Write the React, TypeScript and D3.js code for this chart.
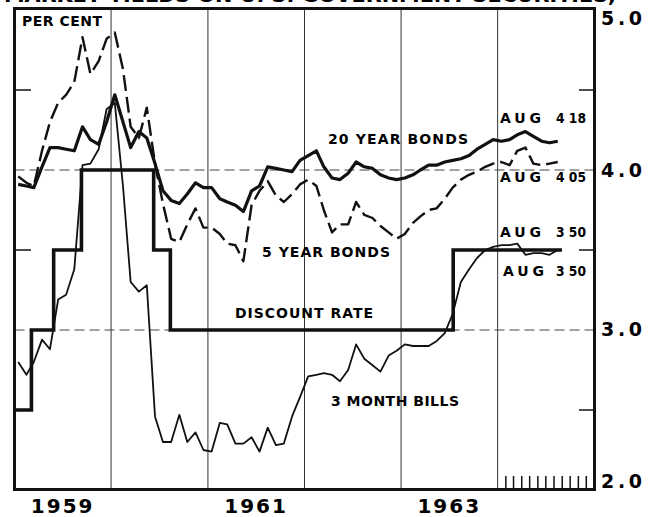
import React, { useEffect, useRef } from 'react';
import * as d3 from 'd3';

// monthly averages, Jan 1959 - Aug 1964, per cent
const twentyYearBonds = [
  3.91, 3.90, 3.89, 4.02, 4.14, 4.14, 4.13, 4.12, 4.27, 4.19, 4.16, 4.30,
  4.47, 4.30, 4.14, 4.24, 4.20, 4.04, 3.87, 3.81, 3.79, 3.85, 3.92, 3.89,
  3.89, 3.82, 3.80, 3.78, 3.74, 3.87, 3.90, 4.02, 4.01, 4.00, 3.99, 4.06,
  4.09, 4.12, 4.02, 3.95, 3.94, 3.98, 4.05, 4.02, 4.01, 3.97, 3.95, 3.94,
  3.95, 3.97, 4.00, 4.03, 4.03, 4.05, 4.06, 4.07, 4.09, 4.13, 4.16, 4.19,
  4.18, 4.19, 4.22, 4.24, 4.21, 4.18, 4.17, 4.18,
];
const fiveYearBonds = [
  3.96, 3.92, 3.90, 4.12, 4.30, 4.42, 4.47, 4.55, 4.83, 4.60, 4.68, 4.82,
  4.86, 4.63, 4.27, 4.20, 4.39, 4.04, 3.79, 3.57, 3.55, 3.66, 3.76, 3.64,
  3.64, 3.60, 3.54, 3.53, 3.43, 3.78, 3.87, 3.93, 3.84, 3.80, 3.85, 3.91,
  3.94, 3.90, 3.75, 3.61, 3.66, 3.66, 3.80, 3.72, 3.70, 3.65, 3.61, 3.57,
  3.60, 3.67, 3.71, 3.75, 3.76, 3.82, 3.89, 3.94, 3.97, 3.99, 4.02, 4.04,
  4.05, 4.03, 4.12, 4.14, 4.04, 4.03, 4.04, 4.05,
];
const threeMonthBills = [
  2.80, 2.72, 2.80, 2.94, 2.88, 3.19, 3.22, 3.38, 4.03, 4.04, 4.13, 4.38,
  4.42, 3.90, 3.30, 3.24, 3.28, 2.46, 2.30, 2.30, 2.47, 2.30, 2.36, 2.25,
  2.24, 2.42, 2.41, 2.29, 2.29, 2.33, 2.24, 2.39, 2.28, 2.29, 2.46, 2.58,
  2.71, 2.72, 2.73, 2.72, 2.68, 2.75, 2.91, 2.82, 2.78, 2.74, 2.84, 2.87,
  2.91, 2.90, 2.90, 2.90, 2.93, 2.98, 3.10, 3.30, 3.38, 3.45, 3.50, 3.52,
  3.53, 3.53, 3.54, 3.47, 3.48, 3.48, 3.47, 3.50,
];

// discount rate changes; last entry only closes the step
const discountDates = ['1959-01-01', '1959-03-06', '1959-05-29', '1959-09-11', '1960-06-10', '1960-08-12', '1963-07-17', '1964-08-31'];
const discountRates = [2.5, 3.0, 3.5, 4.0, 3.5, 3.0, 3.5, 3.5];

const yearLabels = ['1959', '1961', '1963'];
const gridYears = ['1960', '1961', '1962', '1963', '1964'];
const valueLabels = ['5.0', '4.0', '3.0', '2.0'];
const halfTicks = [4.5, 3.5, 2.5];
const dashedLevels = [4.0, 3.0];
const augValues = ['4 18', '4 05', '3 50', '3 50'];

const width = 658;
const height = 517;
const font = '"DejaVu Sans", Verdana, sans-serif';

export default function App() {
  const ref = useRef(null);

  useEffect(() => {
    const svg = d3.select(ref.current);
    svg.selectAll('*').remove();

    const parse = d3.timeParse('%Y-%m-%d');
    const x = d3.scaleTime().domain([new Date(1959, 0, 1), new Date(1965, 0, 1)]).range([14.5, 594.5]);
    const y = d3.scaleLinear().domain([2, 5]).range([490, 10]);

    const months = threeMonthBills.map((d, i) => new Date(1959, i, 15));

    // title, cut off at the top of the page like the scan
    svg.append('text').attr('x', 4).attr('y', 2)
      .attr('font-family', font).attr('font-weight', 'bold').attr('font-size', 22)
      .attr('textLength', 612).attr('lengthAdjust', 'spacingAndGlyphs')
      .text('MARKET YIELDS ON U. S. GOVERNMENT SECURITIES,');

    // year grid
    svg.append('g').selectAll('line').data(gridYears).join('line')
      .attr('x1', d => x(new Date(+d, 0, 1))).attr('x2', d => x(new Date(+d, 0, 1)))
      .attr('y1', y(5)).attr('y2', y(2))
      .attr('stroke', '#333').attr('stroke-width', 1);

    svg.append('g').selectAll('line').data(dashedLevels).join('line')
      .attr('x1', x.range()[0]).attr('x2', x.range()[1])
      .attr('y1', d => y(d)).attr('y2', d => y(d))
      .attr('stroke', '#444').attr('stroke-width', 1).attr('stroke-dasharray', '10,5');

    // half point ticks, both sides
    const ticks = svg.append('g').attr('stroke', '#111').attr('stroke-width', 1.5);
    ticks.selectAll('.l').data(halfTicks).join('line').attr('class', 'l')
      .attr('x1', 14).attr('x2', 31).attr('y1', d => y(d)).attr('y2', d => y(d));
    ticks.selectAll('.r').data(halfTicks).join('line').attr('class', 'r')
      .attr('x1', 579).attr('x2', 595).attr('y1', d => y(d)).attr('y2', d => y(d));

    // months of 1964 along the bottom
    ticks.selectAll('.m').data(d3.timeMonth.range(new Date(1964, 1, 1), new Date(1965, 0, 1))).join('line')
      .attr('class', 'm')
      .attr('x1', d => x(d)).attr('x2', d => x(d)).attr('y1', 476).attr('y2', 489);

    const line = d3.line().x((d, i) => x(months[i])).y(d => y(d));

    svg.append('path').datum(threeMonthBills).attr('d', line)
      .attr('fill', 'none').attr('stroke', '#111').attr('stroke-width', 1.8).attr('stroke-linejoin', 'round');

    svg.append('path').datum(fiveYearBonds).attr('d', line)
      .attr('fill', 'none').attr('stroke', '#111').attr('stroke-width', 2.4)
      .attr('stroke-dasharray', '16,6').attr('stroke-linejoin', 'round');

    svg.append('path').datum(twentyYearBonds).attr('d', line)
      .attr('fill', 'none').attr('stroke', '#111').attr('stroke-width', 3.2).attr('stroke-linejoin', 'round');

    const step = d3.line().curve(d3.curveStepAfter)
      .x((d, i) => x(parse(discountDates[i]))).y(d => y(d));
    svg.append('path').datum(discountRates).attr('d', step)
      .attr('fill', 'none').attr('stroke', '#111').attr('stroke-width', 3.6);

    // frame
    svg.append('rect').attr('x', 14.5).attr('y', 8.5).attr('width', 580).attr('height', 481)
      .attr('fill', 'none').attr('stroke', '#111').attr('stroke-width', 3);

    // right axis values
    svg.append('g').selectAll('text').data(valueLabels).join('text')
      .attr('x', 601)
      .attr('y', (d, i) => [25, y(4) + 7, y(3) + 6, 488][i])
      .attr('font-family', font).attr('font-weight', 'bold').attr('font-size', 19)
      .attr('textLength', 41).attr('lengthAdjust', 'spacing')
      .text(d => d);

    // years, centred on mid-year
    svg.append('g').selectAll('text').data(yearLabels).join('text')
      .attr('x', d => x(new Date(+d, 6, 2))).attr('y', 513)
      .attr('text-anchor', 'middle')
      .attr('font-family', font).attr('font-weight', 'bold').attr('font-size', 20)
      .attr('letter-spacing', 2)
      .text(d => d);

    const label = (txt, lx, ly, len, adjust = 'spacing') => svg.append('text')
      .attr('x', lx).attr('y', ly)
      .attr('font-family', font).attr('font-weight', 'bold').attr('font-size', 14)
      .attr('textLength', len).attr('lengthAdjust', adjust)
      .text(txt);

    label('PER CENT', 22, 26, 80);
    label('20 YEAR BONDS', 328, 144, 140);
    label('5 YEAR BONDS', 262, 257, 128);
    label('DISCOUNT RATE', 235, 318, 138);
    label('3 MONTH BILLS', 331, 406, 128);

    // latest values, August 1964
    const augY = [123, 182, 237, 276];
    augY.forEach((ay, i) => {
      label('AUG', 500 + (i == 3 ? 3 : 0), ay, 41);
      label(augValues[i], 556, ay, 30, 'spacingAndGlyphs');
    });
  }, []);

  return (
    <div style={{ position: 'fixed', left: 0, top: 0, background: '#fff' }}>
      <svg ref={ref} width={width} height={height} />
    </div>
  );
}
